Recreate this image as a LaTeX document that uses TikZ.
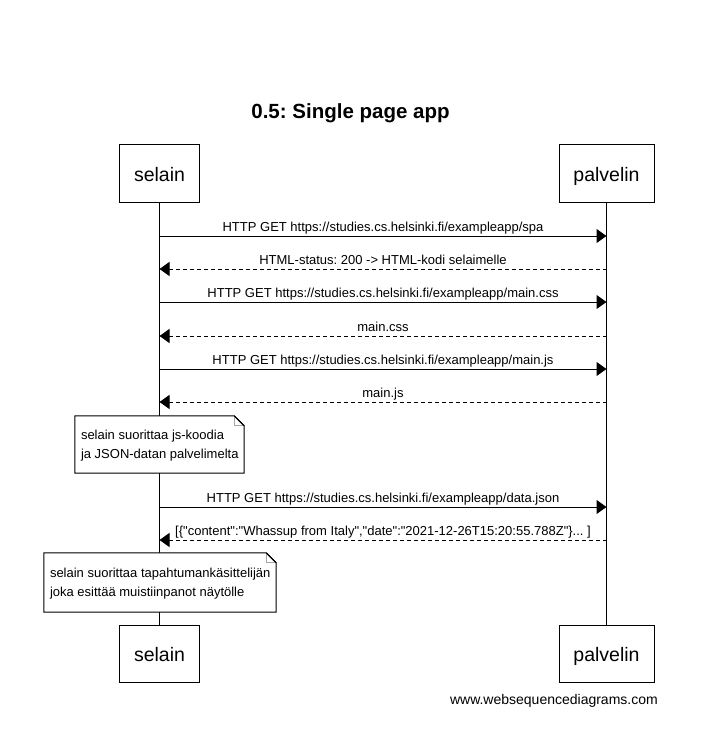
\documentclass[tikz,border=0pt]{standalone}
\usepackage{fontspec}
\setmainfont{Liberation Sans}[Ligatures=TeXOff]
\usetikzlibrary{arrows.meta}
\frenchspacing
\tikzset{
  actor/.style={draw, line width=1pt, inner sep=0pt, minimum height=57pt, text height=17pt, text depth=1pt, font=\fontsize{19.5}{22}\selectfont},
  msg/.style={line width=1pt, -{Triangle[length=10pt,width=14pt]}},
  reply/.style={msg, dash pattern=on 4pt off 3pt},
  lbl/.style={anchor=base, yshift=4.5pt, font=\fontsize{13}{15}\selectfont, inner sep=0pt},
  life/.style={line width=1pt},
  notefr/.style={inner sep=0pt},
  notetxt/.style={anchor=west, align=left, inner sep=0pt, font=\fontsize{13}{19}\selectfont},
  notepath/.style={draw, line width=1pt, fill=white},
  fold/.style={draw=gray!70, line width=0.8pt},
}
\begin{document}
\begin{tikzpicture}[x=1pt,y=-1pt]
\useasboundingbox (0,0) rectangle (711,730);
% title
\node[anchor=base, inner sep=0pt, font=\bfseries\fontsize{20.5}{24}\selectfont] (title) at (350.5,119) {0.5: Single page app};
% actors
\node[actor, minimum width=80pt] (s0) at (159.5,173.5) {selain};
\node[actor, minimum width=95pt] (p0) at (606.5,173.5) {palvelin};
\node[actor, minimum width=80pt] (s9) at (159.5,653.5) {selain};
\node[actor, minimum width=95pt] (p9) at (606.5,653.5) {palvelin};
% lifelines
\draw[life] (s0.south) -- (s9.north);
\draw[life] (p0.south) -- (p9.north);
% message points
\foreach \i/\y in {1/236,2/269,3/302,4/336,5/369,6/402,7/507,8/540}{
  \coordinate (s\i) at (159.5,\y);
  \coordinate (p\i) at (606.5,\y);
}
\draw[msg] (s1) -- node[lbl] (m1) {HTTP GET https://studies.cs.helsinki.fi/exampleapp/spa} (p1);
\draw[reply] (p2) -- node[lbl] (m2) {HTML-status: 200 -> HTML-kodi selaimelle} (s2);
\draw[msg] (s3) -- node[lbl] (m3) {HTTP GET https://studies.cs.helsinki.fi/exampleapp/main.css} (p3);
\draw[reply] (p4) -- node[lbl] (m4) {main.css} (s4);
\draw[msg] (s5) -- node[lbl] (m5) {HTTP GET https://studies.cs.helsinki.fi/exampleapp/main.js} (p5);
\draw[reply] (p6) -- node[lbl] (m6) {main.js} (s6);
\draw[msg] (s7) -- node[lbl] (m7) {HTTP GET https://studies.cs.helsinki.fi/exampleapp/data.json} (p7);
\draw[reply] (p8) -- node[lbl] (m8) {[\{"content":"Whassup from Italy","date":"2021-12-26T15:20:55.788Z"\}... ]} (s8);
% note 1
\node[notefr, minimum width=169pt, minimum height=57pt] (n1) at (159.5,444.5) {};
\draw[notepath] (n1.north west) -- ([xshift=-10pt]n1.north east) -- ([yshift=-10pt]n1.north east) -- (n1.south east) -- (n1.south west) -- cycle;
\draw[fold] ([xshift=-10pt]n1.north east) -- ([xshift=-10pt,yshift=-10pt]n1.north east) -- ([yshift=-10pt]n1.north east);
\draw[line width=1pt] ([xshift=-10pt]n1.north east) -- ([yshift=-10pt]n1.north east);
\node[notetxt] (t1) at ([xshift=6pt,yshift=-1.5pt]n1.west) {selain suorittaa js-koodia\\ja JSON-datan palvelimelta};
% note 2
\node[notefr, minimum width=232pt, minimum height=59pt] (n2) at (160,582.5) {};
\draw[notepath] (n2.north west) -- ([xshift=-10pt]n2.north east) -- ([yshift=-10pt]n2.north east) -- (n2.south east) -- (n2.south west) -- cycle;
\draw[fold] ([xshift=-10pt]n2.north east) -- ([xshift=-10pt,yshift=-10pt]n2.north east) -- ([yshift=-10pt]n2.north east);
\draw[line width=1pt] ([xshift=-10pt]n2.north east) -- ([yshift=-10pt]n2.north east);
\node[notetxt] (t2) at ([xshift=6pt,yshift=-1.5pt]n2.west) {selain suorittaa tapahtumankäsittelijän\\joka esittää muistiinpanot näytölle};
% watermark
\node[anchor=base east, inner sep=0pt, font=\fontsize{14}{16}\selectfont] (wm) at (658,704) {www.websequencediagrams.com};
\end{tikzpicture}
\end{document}
